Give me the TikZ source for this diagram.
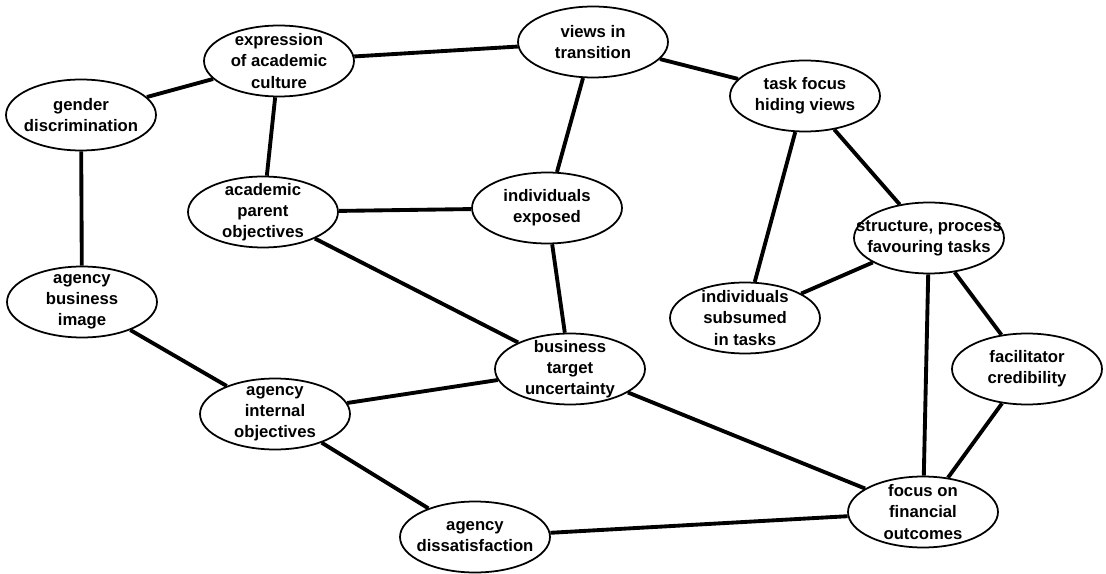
\documentclass[tikz,border=0pt]{standalone}
\usepackage{fontspec}
\setsansfont{Liberation Sans}
\usetikzlibrary{shapes.geometric}
\tikzset{
  every picture/.style={font=\sffamily\bfseries\fontsize{9.5}{12}\selectfont},
  idea/.style={ellipse, draw, line width=1pt, fill=white, minimum width=3cm, minimum height=1.42cm, inner xsep=-12pt, inner ysep=-6pt, align=center},
  link/.style={line width=2.2pt},
}
\begin{document}
\begin{tikzpicture}[x=0.02cm, y=-0.02cm]
  \useasboundingbox (0,0) rectangle (1106,574);
  % left column
  \node[idea] (gd) at (81,115) {gender\\discrimination};
  \node[idea] (abi) at (82,302) {agency\\business\\image};
  % academic side
  \node[idea] (eac) at (279,61) {expression\\of academic\\culture};
  \node[idea] (apo) at (263,212) {academic\\parent\\objectives};
  \node[idea] (aio) at (275,414) {agency\\internal\\objectives};
  \node[idea] (ad) at (475,537) {agency\\dissatisfaction};
  % middle
  \node[idea] (vt) at (593,42) {views in\\transition};
  \node[idea] (ie) at (547,208) {individuals\\exposed};
  \node[idea] (btu) at (570,369) {business\\target\\uncertainty};
  % task side
  \node[idea] (tf) at (805,96) {task focus\\hiding views};
  \node[idea] (spf) at (929,238) {structure, process\\favouring tasks};
  \node[idea] (ist) at (745,318) {individuals\\subsumed\\in tasks};
  \node[idea] (fc) at (1027,369) {facilitator\\credibility};
  \node[idea] (ffo) at (923,512) {focus on\\financial\\outcomes};
  % links
  \draw[link] (gd) -- (eac);
  \draw[link] (gd) -- (abi);
  \draw[link] (eac) -- (vt);
  \draw[link] (eac) -- (apo);
  \draw[link] (vt) -- (tf);
  \draw[link] (vt) -- (ie);
  \draw[link] (apo) -- (ie);
  \draw[link] (apo) -- (btu);
  \draw[link] (ie) -- (btu);
  \draw[link] (tf) -- (ist);
  \draw[link] (tf) -- (spf);
  \draw[link] (spf) -- (ist);
  \draw[link] (spf) -- (ffo);
  \draw[link] (spf) -- (fc);
  \draw[link] (fc) -- (ffo);
  \draw[link] (abi) -- (aio);
  \draw[link] (aio) -- (btu);
  \draw[link] (aio) -- (ad);
  \draw[link] (btu) -- (ffo);
  \draw[link] (ad) -- (ffo);
\end{tikzpicture}
\end{document}
